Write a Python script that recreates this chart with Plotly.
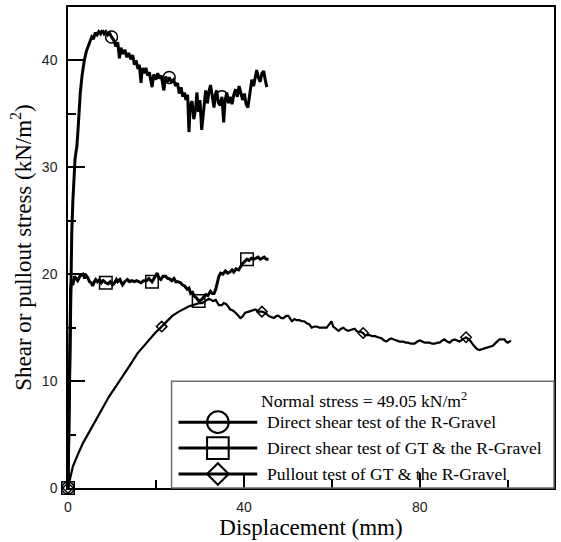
import plotly.graph_objects as go

# ---- Direct shear test of the R-Gravel ----
gravel_x = [0, 0.15, 0.3, 0.45, 0.6, 0.85, 1.1, 1.35, 1.6, 1.8, 2.0, 2.2, 2.5, 2.8, 3.2, 3.7,
            4.2, 4.9, 5.4, 5.8, 6.2, 6.6, 7.0, 7.4, 7.8, 8.2, 8.6, 9.0, 9.4, 9.9, 10.4, 10.9,
            11.3, 11.7, 12.0, 12.5, 12.9, 13.4, 13.8, 14.3, 14.7, 15.1, 15.5, 15.9, 16.2, 16.6,
            16.9, 17.3, 17.7, 18.1, 18.5, 19.1, 19.5, 20.0, 20.4, 20.8, 21.2, 21.8, 22.2, 22.6,
            23.0, 23.5, 24.0, 24.5, 24.9, 25.3, 25.7, 26.1, 26.5, 26.8, 27.2, 27.5, 27.8, 28.2,
            28.6, 29.0, 29.3, 29.7, 30.0, 30.4, 30.8, 31.3, 31.7, 32.0, 32.4, 32.8, 33.2, 33.5,
            33.8, 34.2, 34.6, 35.0, 35.4, 35.7, 36.1, 36.5, 36.9, 37.3, 37.7, 38.1, 38.5, 38.9,
            39.3, 39.7, 40.1, 40.5, 40.9, 41.3, 41.8, 42.2, 42.6, 42.9, 43.3, 43.7, 44.1, 44.5,
            44.8, 45.2]
gravel_y = [0, 4, 10, 15.5, 19.5, 23.8, 26.8, 29.2, 30.8, 31.4, 31.9, 33.0, 35.2, 37.0, 38.6, 40.0,
            40.9, 41.7, 42.2, 42.0, 42.6, 42.4, 42.7, 42.5, 42.8, 42.5, 42.7, 42.4, 42.6, 42.2, 41.9, 41.3,
            41.7, 40.2, 41.2, 40.6, 41.0, 40.3, 40.7, 40.1, 40.5, 39.6, 40.0, 39.2, 39.6, 37.9,
            39.3, 38.8, 39.3, 38.6, 38.9, 37.5, 38.7, 38.2, 38.8, 38.3, 38.6, 37.2, 38.5, 38.0,
            38.4, 38.0, 38.2, 37.6, 37.9, 36.9, 37.5, 36.6, 37.0, 36.3, 36.8, 33.3, 35.8, 36.2,
            34.5, 35.4, 37.0, 35.2, 36.3, 33.5, 35.5, 37.2, 36.0, 37.0, 37.7, 36.4, 35.6, 36.8,
            37.2, 36.0, 35.8, 36.6, 34.2, 36.2, 37.0, 36.0, 36.6, 35.9, 36.8, 37.3, 36.6, 37.6,
            37.0, 36.3, 36.9, 35.9, 35.6, 36.8, 38.2, 37.6, 38.7, 39.1, 38.4, 38.0, 38.8, 39.0,
            38.3, 37.5]
gravel_mark_x = [0, 9.9, 23.0, 35.0]

# ---- Direct shear test of GT & the R-Gravel ----
gt_shear_x = [0, 0.2, 0.4, 0.6, 0.8, 1.1, 1.5, 1.9, 2.2, 2.7, 3.1, 3.4, 3.8, 4.1, 4.5, 4.9,
              5.3, 5.6, 6.0, 6.3, 6.7, 7.2, 7.6, 8.0, 8.6, 9.1, 9.6, 10.1, 10.6, 11.0, 11.3, 11.8,
              12.4, 12.9, 13.5, 14.0, 14.5, 15.1, 15.6, 16.1, 16.6, 17.2, 17.8, 18.4, 19.1, 19.7,
              20.3, 20.7, 21.1, 21.6, 22.2, 22.7, 23.0, 23.6, 24.1, 24.5, 25.0, 25.6, 26.0, 26.5,
              27.1, 27.5, 27.9, 28.3, 28.8, 29.2, 29.7, 30.3, 30.8, 31.3, 31.8, 32.4, 32.8, 33.2,
              33.6, 33.9, 34.3, 34.7, 35.2, 35.8, 36.3, 36.8, 37.3, 37.7, 38.2, 38.8, 39.2, 39.7,
              40.2, 40.7, 41.2, 41.7, 42.2, 42.7, 43.2, 43.7, 44.1, 44.6, 45.1, 45.6]
gt_shear_y = [0, 8, 15.5, 18.6, 19.3, 19.0, 19.8, 19.6, 19.4, 19.8, 19.9, 20.0, 19.6, 19.9, 19.7, 19.3,
              19.2, 18.9, 19.3, 19.5, 19.3, 19.5, 19.2, 19.4, 19.2, 19.1, 19.3, 19.0, 19.2, 19.5, 19.3, 19.5,
              19.0, 19.3, 19.5, 19.3, 19.4, 19.3, 19.4, 19.3, 19.2, 19.4, 19.4, 19.6, 19.3, 19.7,
              20.1, 19.6, 19.5, 19.8, 19.8, 19.6, 19.6, 19.4, 19.6, 19.3, 19.3, 19.2, 19.0, 18.9,
              18.6, 18.7, 18.2, 18.3, 17.9, 17.8, 17.5, 17.6, 17.9, 18.1, 18.0, 18.4, 18.2, 18.2,
              18.6, 19.2, 19.8, 20.1, 20.0, 20.3, 20.1, 20.2, 20.4, 20.2, 20.5, 20.4, 20.7, 21.0,
              21.2, 21.4, 21.3, 21.5, 21.4, 21.5, 21.6, 21.4, 21.5, 21.6, 21.4, 21.4]
gt_shear_mark_x = [0, 8.6, 19.1, 29.7, 40.7]

# ---- Pullout test of GT & the R-Gravel ----
pullout_x = [0, 1.1, 2.2, 3.4, 4.9, 6.4, 7.9, 9.4, 10.9, 12.4, 14.1, 15.8, 17.2, 18.5, 19.8, 21.3,
             22.5, 23.7, 25.2, 26.5, 27.5, 28.3, 29.8, 30.5, 31.3, 32.0, 33.0, 33.6, 34.3, 35.0,
             35.4, 36.0, 36.9, 37.5, 38.1, 38.7, 39.2, 39.6, 40.3, 41.1, 41.8, 42.6, 43.4, 44.1,
             44.8, 45.6, 46.2, 46.8, 47.4, 47.9, 48.5, 49.0, 49.6, 50.1, 50.9, 51.5, 52.0, 52.6,
             53.2, 53.7, 54.3, 54.9, 55.4, 56.0, 56.6, 57.1, 57.7, 58.3, 58.8, 59.4, 59.9, 60.3,
             60.9, 61.5, 62.1, 62.6, 63.2, 63.7, 64.4, 65.2, 65.6, 66.0, 66.6, 67.1, 67.5, 68.0,
             68.6, 69.2, 69.8, 70.5, 71.3, 71.9, 72.4, 73.0, 73.5, 74.1, 74.7, 75.4, 76.2, 76.8,
             77.3, 78.0, 78.8, 79.4, 80.0, 80.5, 81.1, 81.7, 82.2, 82.8, 83.4, 84.0, 84.5, 85.1,
             85.6, 86.2, 86.8, 87.3, 87.9, 88.5, 89.0, 89.7, 90.5, 91.1, 91.6, 92.3, 93.0, 93.5,
             94.2, 95.0, 95.8, 96.6, 97.3, 98.1, 98.6, 99.2, 99.6, 100.0, 100.4, 100.7]
pullout_y = [0, 2.0, 3.1, 4.2, 5.3, 6.4, 7.5, 8.6, 9.5, 10.4, 11.5, 12.6, 13.3, 13.9, 14.5, 15.1,
             15.6, 16.1, 16.5, 16.8, 17.0, 17.1, 17.3, 17.3, 17.5, 17.7, 17.5, 17.6, 17.1, 17.1,
             17.3, 17.2, 16.7, 16.6, 16.4, 16.1, 15.9, 16.0, 16.4, 16.5, 16.6, 16.7, 16.5, 16.5,
             16.4, 16.1, 16.0, 15.9, 16.1, 16.1, 15.9, 15.9, 16.1, 16.1, 15.6, 15.8, 15.7, 15.7,
             15.6, 15.6, 15.4, 15.3, 15.0, 15.1, 15.1, 15.0, 15.0, 15.0, 15.0, 15.3, 15.6, 15.1,
             14.9, 14.7, 14.9, 15.0, 14.8, 14.7, 14.8, 14.9, 14.7, 14.6, 14.6, 14.5, 14.3, 14.3,
             14.3, 14.2, 14.2, 14.1, 14.0, 13.8, 13.7, 13.9, 14.0, 13.9, 13.8, 13.7, 13.7, 13.6,
             13.6, 13.5, 13.5, 13.7, 13.8, 13.7, 13.6, 13.6, 13.6, 13.5, 13.5, 13.6, 13.6, 13.8,
             13.9, 13.7, 13.6, 13.8, 13.9, 13.8, 13.7, 13.9, 14.1, 13.9, 13.7, 13.3, 13.0, 12.9,
             13.0, 13.1, 13.2, 13.3, 13.6, 13.9, 13.9, 13.9, 13.7, 13.6, 13.7, 13.8]
pullout_mark_x = [0, 21.3, 44.1, 67.1, 90.5]

series_names = ["Direct shear test of the R-Gravel",
                "Direct shear test of GT & the R-Gravel",
                "Pullout test of GT & the R-Gravel"]
legend_title = "Normal stress = 49.05 kN/m<sup>2</sup>"
x_label = "Displacement (mm)"
y_label = "Shear or pullout stress (kN/m<sup>2</sup>)"
x_ticks = [0, 40, 80]
y_ticks = [0, 10, 20, 30, 40]

SERIF = "Liberation Serif"
SANS = "Liberation Sans"

series = [
    (gravel_x, gravel_y, gravel_mark_x, "circle-open", 12, 3.0),
    (gt_shear_x, gt_shear_y, gt_shear_mark_x, "square-open", 12.5, 3.0),
    (pullout_x, pullout_y, pullout_mark_x, "diamond-open", 8, 2.2),
]

fig = go.Figure()
for (xs, ys, mxs, sym, msize, lw), name in zip(series, series_names):
    lookup = dict(zip(xs, ys))
    fig.add_trace(go.Scatter(x=xs, y=ys, mode="lines", name=name, showlegend=False,
                             line=dict(color="black", width=lw)))
    fig.add_trace(go.Scatter(x=mxs, y=[lookup[v] for v in mxs], mode="markers",
                             showlegend=False, cliponaxis=False,
                             marker=dict(symbol=sym, size=msize, color="black",
                                         line=dict(color="black", width=1.5))))

# plot-area geometry (pixels)
W, H = 561, 542
L, R, T, B = 68, 556, 6, 488


def xp(px):
    return (px - L) / (R - L)


def yp(py):
    return (B - py) / (B - T)


shapes = []
annotations = []

# legend frame
shapes.append(dict(type="rect", xref="paper", yref="paper",
                   x0=xp(172), x1=1.0, y0=0.0, y1=yp(381),
                   line=dict(color="#6e6e6e", width=1.5), fillcolor="rgba(0,0,0,0)"))
annotations.append(dict(xref="paper", yref="paper", x=xp(365), y=yp(400),
                        text=legend_title, showarrow=False, xanchor="center", yanchor="middle",
                        font=dict(family=SERIF, size=17.6, color="black")))

rows = [422, 448, 474]
glyph_cx = 218.5
for row, name, kind in zip(rows, series_names, ["circle", "rect", "diamond"]):
    shapes.append(dict(type="line", xref="paper", yref="paper",
                       x0=xp(179), x1=xp(258), y0=yp(row), y1=yp(row),
                       line=dict(color="black", width=3)))
    r = 10.8
    if kind == "diamond":
        shapes.append(dict(type="path", xref="paper", yref="paper",
                           xsizemode="pixel", ysizemode="pixel",
                           xanchor=xp(glyph_cx), yanchor=yp(row),
                           path=f"M{-r},0 L0,{r} L{r},0 L0,{-r} Z",
                           line=dict(color="black", width=2)))
    else:
        shapes.append(dict(type=kind, xref="paper", yref="paper",
                           xsizemode="pixel", ysizemode="pixel",
                           xanchor=xp(glyph_cx), yanchor=yp(row),
                           x0=-r, x1=r, y0=-r, y1=r,
                           line=dict(color="black", width=2)))
    annotations.append(dict(xref="paper", yref="paper", x=xp(266), y=yp(row),
                            text=name, showarrow=False, xanchor="left", yanchor="middle",
                            font=dict(family=SERIF, size=17.6, color="black")))

axis_common = dict(showgrid=False, zeroline=False, showline=True, linecolor="black",
                   linewidth=1.5, mirror=True, ticks="inside", tickcolor="black",
                   tickwidth=1.5, tickfont=dict(family=SANS, size=14, color="#222"))

fig.update_layout(
    width=W, height=H,
    margin=dict(l=L, r=W - R, t=T, b=H - B),
    paper_bgcolor="white", plot_bgcolor="white",
    shapes=shapes, annotations=annotations,
    xaxis=dict(range=[0, 110.5], tickvals=x_ticks, ticklen=15, ticklabelstandoff=5,
               minor=dict(dtick=20, tick0=0, ticks="inside", ticklen=8,
                          tickcolor="black", tickwidth=1.5),
               title=dict(text=x_label, standoff=0,
                          font=dict(family=SERIF, size=23, color="black")),
               **axis_common),
    yaxis=dict(range=[0, 45], tickvals=y_ticks, ticklen=17, ticklabelstandoff=6,
               minor=dict(dtick=5, tick0=0, ticks="inside", ticklen=8,
                          tickcolor="black", tickwidth=1.5),
               title=dict(text=y_label, standoff=4,
                          font=dict(family=SERIF, size=23, color="black")),
               **axis_common),
)

fig.write_html("out.html")
